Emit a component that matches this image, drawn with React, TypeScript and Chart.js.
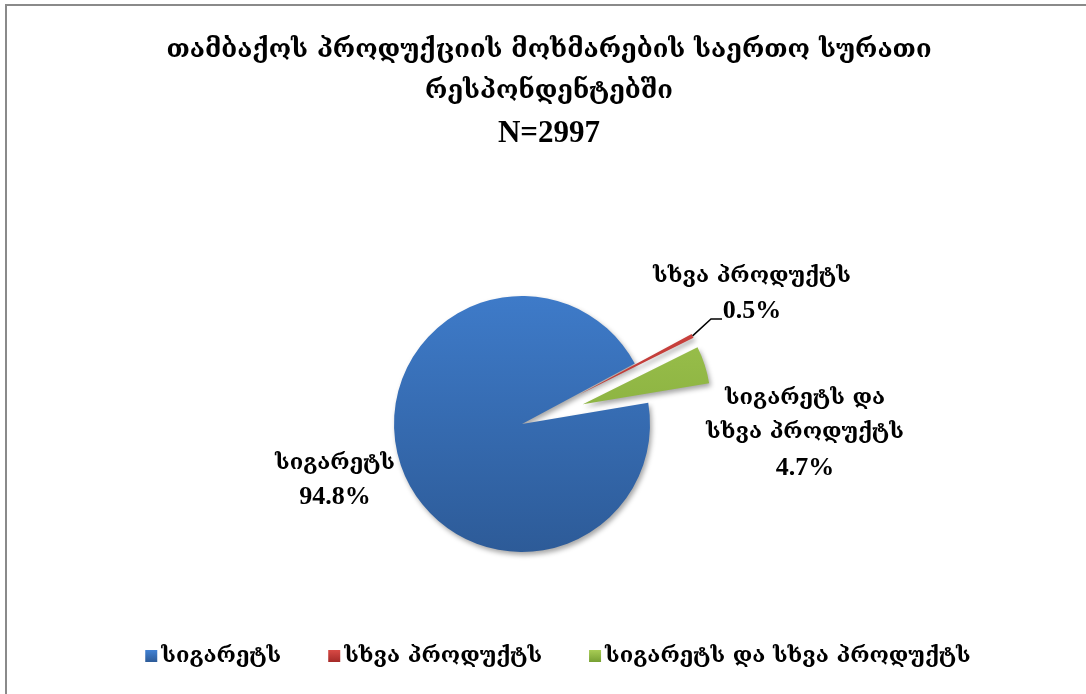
import React, { useEffect, useRef } from "react";
import { Chart, registerables } from "chart.js";

Chart.register(...registerables);

const categories = ["სიგარეტს", "სხვა პროდუქტს", "სიგარეტს და სხვა პროდუქტს"];
const shares = [94.8, 0.5, 4.7];
const valueLabels = ["94.8%", "0.5%", "4.7%"];
const titleLines = ["თამბაქოს პროდუქციის მოხმარების საერთო სურათი", "რესპონდენტებში", "N=2997"];
const sliceLabelLines = [["სიგარეტს"], ["სხვა პროდუქტს"], ["სიგარეტს და", "სხვა პროდუქტს"]];

const FONT = '"DejaVu Serif", serif';
const NUM_FONT = '"Liberation Serif", serif';
const EXPLODE = [0, 64, 64];
const gradStops = [
  ["#4282d4", "#2d5b98"],
  ["#d84a45", "#a52a28"],
  ["#a8cc55", "#77a033"],
];

function sliceFill(c: any) {
  const chart = c.chart;
  const i = c.dataIndex ?? 0;
  const area = chart.chartArea;
  if (!area) return gradStops[i][0];
  const cy = (area.top + area.bottom) / 2;
  const r = 128;
  const g = chart.ctx.createLinearGradient(0, cy - r - 60, 0, cy + r);
  g.addColorStop(0, gradStops[i][0]);
  g.addColorStop(1, gradStops[i][1]);
  return g;
}

const decor = {
  id: "decor",
  beforeDatasetsDraw(chart: any) {
    const ctx = chart.ctx;
    ctx.save();
    ctx.shadowColor = "rgba(0,0,0,0.35)";
    ctx.shadowBlur = 5;
    ctx.shadowOffsetX = 2;
    ctx.shadowOffsetY = 3;
  },
  beforeDatasetDraw(chart: any, args: any) {
    const meta = chart.getDatasetMeta(args.index);
    meta.data.forEach((el: any, i: number) => {
      const d = EXPLODE[i] || 0;
      el._ox = el.x;
      el._oy = el.y;
      if (!d) return;
      const mid = (el.startAngle + el.endAngle) / 2;
      el.x += Math.cos(mid) * d;
      el.y += Math.sin(mid) * d;
    });
  },
  afterDatasetDraw(chart: any, args: any) {
    const meta = chart.getDatasetMeta(args.index);
    meta.data.forEach((el: any) => {
      el.x = el._ox;
      el.y = el._oy;
    });
  },
  afterDatasetsDraw(chart: any) {
    chart.ctx.restore();
  },
  afterDraw(chart: any) {
    const ctx = chart.ctx;
    const meta = chart.getDatasetMeta(0);
    const blue = meta.data[0];
    const cx = blue.x;
    const cy = blue.y;
    ctx.save();
    ctx.fillStyle = "#000";
    ctx.textAlign = "center";
    ctx.textBaseline = "middle";

    // title
    const tx = 549;
    ctx.font = `bold 25.5px ${FONT}`;
    ctx.fillText(titleLines[0], tx, 50);
    ctx.fillText(titleLines[1], tx, 91);
    ctx.font = `bold 31px ${NUM_FONT}`;
    ctx.fillText(titleLines[2], tx, 134);

    // slice labels
    const anchors = [
      { dx: -187, dy: [39, 72] },
      { dx: 230, dy: [-148, -114] },
      { dx: 283, dy: [-26, 8, 43] },
    ];
    anchors.forEach((a, i) => {
      ctx.font = `bold 22px ${FONT}`;
      sliceLabelLines[i].forEach((t, k) => ctx.fillText(t, cx + a.dx, cy + a.dy[k]));
      ctx.font = `bold 26px ${NUM_FONT}`;
      ctx.fillText(valueLabels[i], cx + a.dx, cy + a.dy[sliceLabelLines[i].length] + 1);
    });

    // leader line for the small slice
    const red = meta.data[1];
    const mid = (red.startAngle + red.endAngle) / 2;
    const rr = red.outerRadius + EXPLODE[1];
    ctx.strokeStyle = "#000";
    ctx.lineWidth = 1.5;
    ctx.beginPath();
    ctx.moveTo(cx + Math.cos(mid) * rr, cy + Math.sin(mid) * rr);
    ctx.lineTo(cx + 189, cy - 105);
    ctx.lineTo(cx + 200, cy - 105);
    ctx.stroke();

    // legend
    ctx.font = `bold 22px ${FONT}`;
    ctx.textAlign = "left";
    const box = 12;
    const gapBox = 4;
    const gapItem = 47;
    const widths = categories.map((t) => box + gapBox + ctx.measureText(t).width);
    const total = widths.reduce((a, b) => a + b, 0) + gapItem * (categories.length - 1);
    let x = 558 - total / 2;
    const ly = 656;
    categories.forEach((t, i) => {
      const g = ctx.createLinearGradient(0, ly - box / 2, 0, ly + box / 2);
      g.addColorStop(0, gradStops[i][0]);
      g.addColorStop(1, gradStops[i][1]);
      ctx.fillStyle = g;
      ctx.fillRect(x, ly - box / 2, box, box);
      ctx.fillStyle = "#000";
      ctx.fillText(t, x + box + gapBox, ly);
      x += widths[i] + gapItem;
    });
    ctx.restore();
  },
};

export default function App() {
  const ref = useRef<HTMLCanvasElement>(null);
  useEffect(() => {
    if (!ref.current) return;
    const chart = new Chart(ref.current, {
      type: "pie",
      data: {
        labels: categories,
        datasets: [
          {
            data: shares,
            backgroundColor: sliceFill as any,
            borderWidth: 0,
          },
        ],
      },
      options: {
        responsive: false,
        animation: false,
        radius: 128,
        rotation: 80.5,
        layout: { padding: { left: 0, right: 42, top: 154, bottom: 0 } },
        plugins: {
          legend: { display: false },
          title: { display: false },
          tooltip: { enabled: false },
        },
      } as any,
      plugins: [decor],
    });
    return () => chart.destroy();
  }, []);
  return (
    <div style={{ position: "absolute", left: 0, top: 0, width: 1086, height: 694, background: "#fff" }}>
      <div
        style={{
          position: "absolute",
          left: 5,
          top: 4,
          width: 1081,
          height: 690,
          borderTop: "2px solid #8a8a8a",
          borderLeft: "2px solid #8a8a8a",
        }}
      />
      <canvas ref={ref} width={1086} height={694} style={{ position: "absolute", left: 0, top: 0 }} />
    </div>
  );
}
